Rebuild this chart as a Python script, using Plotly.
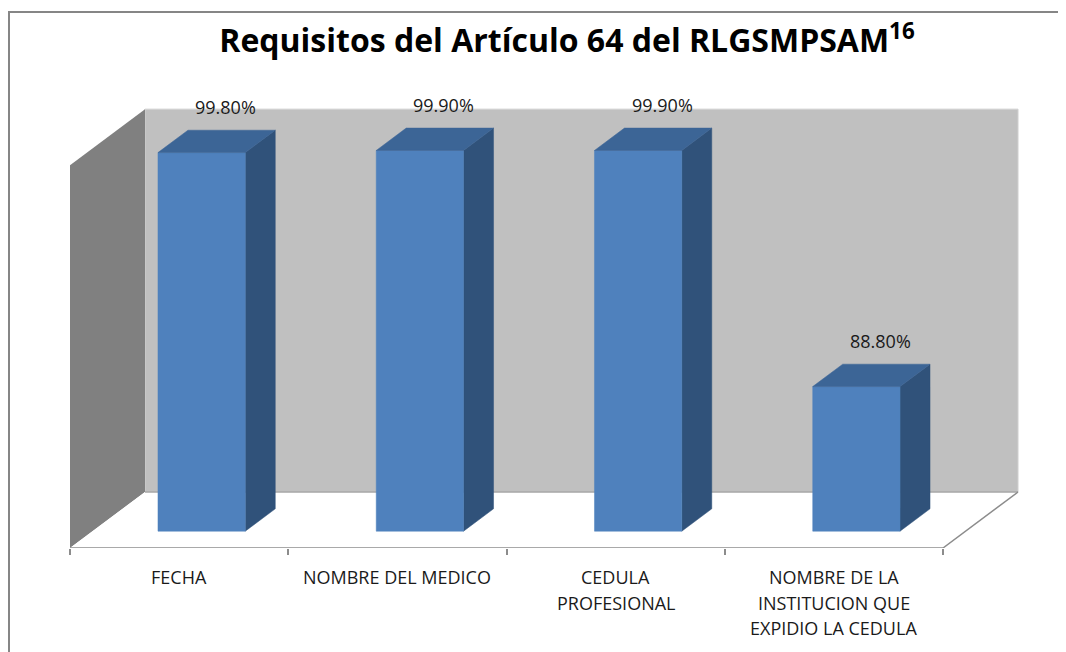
import plotly.graph_objects as go

# ---------------- data ----------------
categories = ["FECHA", "NOMBRE DEL MEDICO", "CEDULA\nPROFESIONAL",
              "NOMBRE DE LA\nINSTITUCION QUE\nEXPIDIO LA CEDULA"]
values = [99.8, 99.9, 99.9, 88.8]
axis_min = 82
axis_max = 100
title_text = "Requisitos del Artículo 64 del RLGSMPSAM<sup>16</sup>"

# ---------------- layout geometry / style ----------------
PAGE_OFF = 8              # default body margin of the html page
W, H = 1066 - PAGE_OFF, 652 - PAGE_OFF
ML, MR, MT, MB = 70 - PAGE_OFF, 14, 100 - PAGE_OFF, 104
SLOT_PX = 218.25          # pixels per category slot
UNIT_PX = 21.27           # pixels per value unit
DEPTH_X_PX, DEPTH_Y_PX = 75, 56   # oblique depth offset of the 3D box
plot_w = W - ML - MR
plot_h = H - MT - MB
DX = DEPTH_X_PX / SLOT_PX
DY = DEPTH_Y_PX / UNIT_PX
n = len(categories)
x0, x1 = -0.5, n - 0.5
BAR_HALF = 0.2
D_FRONT, D_BACK = 0.3, 0.7

C_FRONT = "#4F81BD"
C_TOP = "#3C6596"
C_SIDE = "#30527A"
C_BACKWALL = "#C0C0C0"
C_SIDEWALL = "#808080"
C_AXIS = "#8C8C8C"
FONT = "Open Sans"


def P(x, v, d):
    return (x + d * DX, v + d * DY)


def poly(points, fill, line=None, width=0.0):
    xs = [p[0] for p in points] + [points[0][0]]
    ys = [p[1] for p in points] + [points[0][1]]
    return go.Scatter(x=xs, y=ys, fill="toself", fillcolor=fill, mode="lines",
                      line=dict(color=line or fill, width=width),
                      hoverinfo="skip", showlegend=False)


def seg(a, b, color, width):
    return go.Scatter(x=[a[0], b[0]], y=[a[1], b[1]], mode="lines",
                      line=dict(color=color, width=width),
                      hoverinfo="skip", showlegend=False)


fig = go.Figure()

# walls and floor
fig.add_trace(poly([P(x0, axis_min, 1), P(x1, axis_min, 1), P(x1, axis_max, 1), P(x0, axis_max, 1)],
                   C_BACKWALL, "#D0D0D0", 1))
fig.add_trace(poly([P(x0, axis_min, 0), P(x0, axis_min, 1), P(x0, axis_max, 1), P(x0, axis_max, 0)],
                   C_SIDEWALL))
fig.add_trace(poly([P(x0, axis_min, 0), P(x1, axis_min, 0), P(x1, axis_min, 1), P(x0, axis_min, 1)],
                   "#FFFFFF"))
fig.add_trace(seg(P(x0, axis_min, 1), P(x1, axis_min, 1), "#A6A6A6", 1.5))
fig.add_trace(seg(P(x1, axis_min, 0), P(x1, axis_min, 1), C_AXIS, 1.5))
fig.add_trace(seg(P(x0, axis_min, 0), P(x1, axis_min, 0), C_AXIS, 1.5))

# bars
for i, v in enumerate(values):
    xl, xr = i - BAR_HALF, i + BAR_HALF
    fig.add_trace(poly([P(xr, axis_min, D_FRONT), P(xr, axis_min, D_BACK),
                        P(xr, v, D_BACK), P(xr, v, D_FRONT)], C_SIDE, C_SIDE, 0.5))
    fig.add_trace(poly([P(xl, axis_min, D_FRONT), P(xr, axis_min, D_FRONT),
                        P(xr, v, D_FRONT), P(xl, v, D_FRONT)], C_FRONT, C_FRONT, 0.5))
    fig.add_trace(poly([P(xl, v, D_FRONT), P(xr, v, D_FRONT),
                        P(xr, v, D_BACK), P(xl, v, D_BACK)], C_TOP, C_TOP, 0.5))

annotations = []
# value labels
for i, v in enumerate(values):
    lx, ly = P(i, v, D_BACK)
    annotations.append(dict(x=lx, y=ly, xref="x", yref="y", text=f"{v:.2f}%",
                            showarrow=False, xanchor="center", yanchor="middle",
                            xshift=-6, yshift=23,
                            font=dict(family=FONT, size=18, color="#1A1A1A")))
# category labels
for i, cat in enumerate(categories):
    for j, line in enumerate(cat.split("\n")):
        annotations.append(dict(x=i, y=axis_min, xref="x", yref="y", text=line,
                                showarrow=False, xanchor="center", yanchor="middle",
                                yshift=-(29 + j * 25.7),
                                font=dict(family=FONT, size=18, color="#1A1A1A")))

fig.update_layout(
    width=W, height=H,
    margin=dict(l=ML, r=MR, t=MT, b=MB, pad=0),
    paper_bgcolor="#FFFFFF", plot_bgcolor="rgba(0,0,0,0)",
    showlegend=False,
    title=dict(text=title_text, x=(567 - PAGE_OFF) / W, y=1 - (41 - PAGE_OFF) / H,
               xanchor="center", yanchor="middle",
               font=dict(family=FONT, size=32, color="#000000", weight="bold")),
    xaxis=dict(range=[x0, x0 + plot_w / SLOT_PX], showgrid=False, zeroline=False,
               showline=False, showticklabels=False,
               tickmode="array", tickvals=[x0 + k for k in range(n + 1)],
               ticks="outside", ticklen=6, tickcolor=C_AXIS, tickwidth=1.5,
               fixedrange=True),
    yaxis=dict(range=[axis_min, axis_min + plot_h / UNIT_PX], showgrid=False, zeroline=False,
               showline=False, showticklabels=False, ticks="", fixedrange=True),
    annotations=annotations,
    shapes=[dict(type="rect", xref="paper", yref="paper",
                 x0=(9 - 70) / plot_w, x1=1.1,
                 y0=-0.4, y1=(548 - 12) / plot_h,
                 line=dict(color="#868686", width=2), fillcolor="rgba(0,0,0,0)")],
)

fig.write_html("out.html")
